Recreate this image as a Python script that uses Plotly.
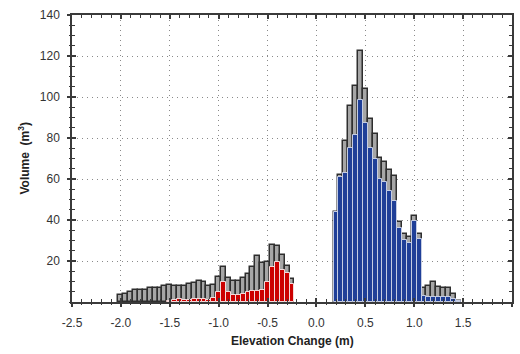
import plotly.graph_objects as go

# Bin centres (m)
bins_neg = [-2.00, -1.95, -1.90, -1.85, -1.80, -1.75, -1.70, -1.65, -1.60, -1.55,
            -1.50, -1.45, -1.40, -1.35, -1.30, -1.25, -1.20, -1.15, -1.10, -1.05,
            -1.00, -0.95, -0.90, -0.85, -0.80, -0.75, -0.70, -0.65, -0.60, -0.55,
            -0.50, -0.45, -0.40, -0.35, -0.30, -0.25]
bins_pos = [0.20, 0.25, 0.30, 0.35, 0.40, 0.45, 0.50, 0.55, 0.60, 0.65,
            0.70, 0.75, 0.80, 0.85, 0.90, 0.95, 1.00, 1.05, 1.10, 1.15,
            1.20, 1.25, 1.30, 1.35, 1.40, 1.45]

# Total volume (grey) per bin
total_neg = [3.6, 4.1, 5.1, 6.1, 6.1, 6.1, 6.7, 6.7, 6.7, 7.6,
             8.1, 7.6, 7.6, 8.0, 8.7, 9.3, 10.4, 9.9, 7.8, 8.1,
             12.0, 17.2, 11.8, 10.4, 10.4, 11.9, 13.7, 17.2, 22.4, 19.2,
             19.5, 28.0, 27.3, 22.9, 17.7, 11.0]
total_pos = [44.0, 61.8, 78.5, 95.6, 105.5, 122.4, 103.9, 89.4, 82.0, 70.1,
             68.5, 64.4, 61.5, 39.2, 33.2, 31.9, 42.0, 33.0, 6.7, 7.6,
             9.8, 7.5, 6.7, 6.7, 3.9, 0.5]

# Lowering (red) and raising (blue) volumes
red_bins = bins_neg[10:]
red_vals = [0.7, 0.8, 1.3, 0.9, 0.9, 1.3, 1.3, 1.3, 1.0, 1.8,
            4.8, 9.6, 4.8, 3.4, 3.4, 3.7, 5.0, 5.4, 5.4, 5.9,
            9.6, 17.2, 19.3, 15.8, 14.3, 9.0]
blue_vals = [43.9, 61.1, 63.1, 75.0, 81.3, 98.5, 87.2, 75.0, 69.8, 59.8,
             58.7, 54.1, 49.4, 36.3, 30.2, 28.9, 39.5, 30.7, 2.9, 2.6,
             2.3, 2.3, 2.3, 2.3, 1.3, 0.5]

x_ticks = [-2.5, -2.0, -1.5, -1.0, -0.5, 0.0, 0.5, 1.0, 1.5, 2.0]
x_tick_text = ["-2.5", "-2.0", "-1.5", "-1.0", "-0.5", "0.0", "0.5", "1.0", "1.5", "2.0"]
y_ticks = [20, 40, 60, 80, 100, 120, 140]
y_tick_text = ["20", "40", "60", "80", "100", "120", "140"]

BW = 0.05
FONT = "Liberation Sans, Arial, sans-serif"
AX = "#3a3a3a"

fig = go.Figure()
fig.add_trace(go.Bar(x=bins_neg + bins_pos, y=total_neg + total_pos, width=BW,
                     marker=dict(color="#a6a6a6", line=dict(color="#2e2e2e", width=1.5)),
                     showlegend=False))
fig.add_trace(go.Bar(x=red_bins, y=red_vals, width=BW,
                     marker=dict(color="#cc0000", line=dict(color="#f3dada", width=1)),
                     showlegend=False))
fig.add_trace(go.Bar(x=bins_pos, y=blue_vals, width=BW,
                     marker=dict(color="#1f3f98", line=dict(color="#c5cde3", width=1)),
                     showlegend=False))
# helper trace so the overlay axes (outer tick halves) are drawn
fig.add_trace(go.Scatter(x=[None], y=[None], xaxis="x2", yaxis="y2",
                         showlegend=False, hoverinfo="skip"))

common_x = dict(range=[-2.5, 2.0], tickvals=x_ticks, linecolor=AX, linewidth=1.5,
                tickcolor=AX, tickwidth=1.5, ticklen=4, zeroline=False, automargin=False)
common_y = dict(range=[0, 140], tickvals=y_ticks, linecolor=AX, linewidth=1.5,
                tickcolor=AX, tickwidth=1.5, ticklen=4, zeroline=False, automargin=False)

fig.update_layout(
    width=520, height=354,
    margin=dict(l=72, r=8, t=15, b=52),
    paper_bgcolor="white", plot_bgcolor="white",
    barmode="overlay", bargap=0,
    font=dict(family=FONT, size=12, color="#333333"),
    xaxis=dict(**common_x, ticktext=x_tick_text, ticks="inside", mirror="ticks",
               showline=True, showgrid=True, gridcolor="#8a8a8a", gridwidth=1,
               griddash="1px,4px", ticklabelstandoff=9,
               minor=dict(dtick=0.1, tick0=0, ticks="inside", ticklen=3,
                          tickcolor=AX, tickwidth=1, showgrid=False),
               tickfont=dict(size=12, color="#333333")),
    yaxis=dict(**common_y, ticktext=y_tick_text, ticks="inside", mirror="ticks",
               showline=True, showgrid=True, gridcolor="#8a8a8a", gridwidth=1,
               griddash="1px,4px", ticklabelstandoff=8,
               minor=dict(dtick=5, tick0=0, ticks="inside", ticklen=3,
                          tickcolor=AX, tickwidth=1, showgrid=False),
               tickfont=dict(size=12, color="#333333")),
    xaxis2=dict(**common_x, overlaying="x", side="bottom", anchor="y2", ticks="outside",
                showticklabels=False, showline=False, showgrid=False,
                minor=dict(dtick=0.1, tick0=0, ticks="outside", ticklen=2,
                           tickcolor=AX, tickwidth=1)),
    yaxis2=dict(**common_y, overlaying="y", side="left", anchor="x2", ticks="outside",
                showticklabels=False, showline=False, showgrid=False,
                minor=dict(dtick=5, tick0=0, ticks="outside", ticklen=2,
                           tickcolor=AX, tickwidth=1)),
    annotations=[
        dict(text="<b>Elevation Change (m)</b>", xref="paper", yref="paper",
             x=0.5, y=0, yshift=-39, xanchor="center", yanchor="middle",
             showarrow=False, font=dict(family=FONT, size=12, color="#222222")),
        dict(text="<b>Volume  (m<sup>3</sup>)</b>", xref="paper", yref="paper",
             x=0, y=0.5, xshift=-49, xanchor="center", yanchor="middle", textangle=-90,
             showarrow=False, font=dict(family=FONT, size=12, color="#222222")),
    ],
)

fig.write_html("out.html")
